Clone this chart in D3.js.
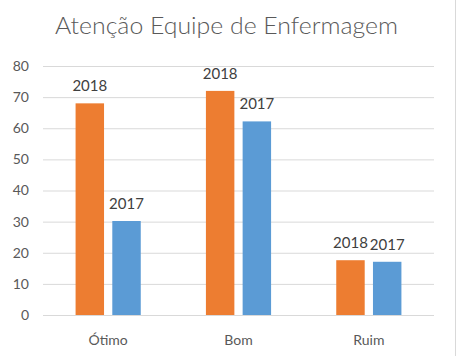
<!DOCTYPE html>
<html><head><meta charset="utf-8">
<script src="https://cdn.jsdelivr.net/npm/d3@7"></script>
<style>body{margin:0;background:#fff}svg{display:block}</style>
</head><body>
<svg id="c" width="457" height="356"></svg>
<script>
const title = "Atenção Equipe de Enfermagem";
const categories = ["Ótimo", "Bom", "Ruim"];
const seriesNames = ["2018", "2017"];
const values2018 = [68, 72, 17.6];
const values2017 = [30.2, 62.2, 17.1];
const yTicks = [0, 10, 20, 30, 40, 50, 60, 70, 80];
const colors = ["#ED7D31", "#5B9BD5"];

const svg = d3.select("#c");
const font = "Lato, 'Open Sans', sans-serif";
const textColor = "#595959";

const x0 = d3.scaleBand().domain(categories).range([43, 434]).paddingInner(0.5).paddingOuter(0.25);
const x1 = d3.scaleBand().domain(seriesNames).range([0, x0.bandwidth()]).paddingInner(0.225);
const y = d3.scaleLinear().domain([0, 80]).range([315, 66]);

// border line on right
svg.append("line").attr("x1", 455.5).attr("x2", 455.5).attr("y1", 0).attr("y2", 356)
  .attr("stroke", "#d9d9d9");

// title
svg.append("text").attr("x", 226.5).attr("y", 34).attr("text-anchor", "middle")
  .attr("font-family", font).attr("font-size", 23).attr("font-weight", 300).attr("fill", textColor)
  .attr("textLength", 343).attr("lengthAdjust", "spacingAndGlyphs")
  .text(title);

// y axis
const yAxis = d3.axisLeft(y).tickValues(yTicks).tickSize(-(434 - 43)).tickPadding(14);
const gy = svg.append("g").attr("transform", "translate(43,0)").call(yAxis);
gy.select(".domain").remove();
gy.selectAll(".tick line").attr("stroke", "#d9d9d9").attr("stroke-width", 1);
gy.selectAll(".tick text").attr("font-family", font).attr("font-size", 14).attr("fill", textColor);

// x axis labels
const xAxis = d3.axisBottom(x0).tickSize(0).tickPadding(20);
const gx = svg.append("g").attr("transform", "translate(0,315)").call(xAxis);
gx.select(".domain").remove();
gx.selectAll(".tick text").attr("font-family", font).attr("font-size", 14).attr("fill", textColor);

const data = categories.map((c, i) => ({cat: c, vals: [
  {s: seriesNames[0], v: values2018[i], col: colors[0]},
  {s: seriesNames[1], v: values2017[i], col: colors[1]}
]}));

const g = svg.selectAll("g.grp").data(data).enter().append("g").attr("class", "grp")
  .attr("transform", d => `translate(${x0(d.cat)},0)`);
g.selectAll("rect").data(d => d.vals).enter().append("rect")
  .attr("x", d => x1(d.s)).attr("width", x1.bandwidth())
  .attr("y", d => y(d.v)).attr("height", d => y(0) - y(d.v))
  .attr("fill", d => d.col);
g.selectAll("text.lbl").data(d => d.vals).enter().append("text").attr("class", "lbl")
  .attr("x", d => x1(d.s) + x1.bandwidth() / 2).attr("y", d => y(d.v) - 12)
  .attr("text-anchor", "middle").attr("font-family", font).attr("font-size", 15)
  .attr("fill", "#404040").text(d => d.s);
</script>
</body></html>
